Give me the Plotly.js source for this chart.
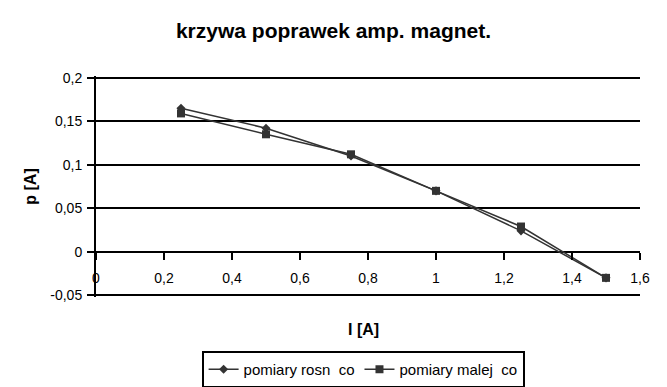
<!DOCTYPE html>
<html><head><meta charset="utf-8">
<script src="https://cdn.plot.ly/plotly-3.0.1.min.js"></script>
<style>body{margin:0;background:#fff}#c{width:667px;height:387px}</style>
</head><body><div id="c"></div>
<script>
const current = [0.25, 0.5, 0.75, 1.0, 1.25, 1.5];
const rosnaco = [0.165, 0.142, 0.110, 0.070, 0.024, -0.030];
const malejaco = [0.159, 0.135, 0.112, 0.070, 0.029, -0.030];
const xTicks = [0, 0.2, 0.4, 0.6, 0.8, 1, 1.2, 1.4, 1.6];
const xTickLabels = ['0', '0,2', '0,4', '0,6', '0,8', '1', '1,2', '1,4', '1,6'];
const yTicks = [-0.05, 0, 0.05, 0.1, 0.15, 0.2];
const yTickLabels = ['-0,05', '0', '0,05', '0,1', '0,15', '0,2'];

const col = '#333333';
const traces = [
  {x: current, y: rosnaco, mode: 'lines+markers', name: 'pomiary rosn\u00a0\u00a0co',
   line: {color: col, width: 1.5}, marker: {symbol: 'diamond', size: 7, color: col}},
  {x: current, y: malejaco, mode: 'lines+markers', name: 'pomiary malej\u00a0\u00a0co',
   line: {color: col, width: 1.5}, marker: {symbol: 'square', size: 8, color: col}}
];
const ff = 'Liberation Sans, Arial, sans-serif';
const font = {family: ff, color: '#000', size: 14};
const layout = {
  width: 667, height: 387,
  margin: {l: 96, r: 27, t: 76, b: 90},
  paper_bgcolor: '#fff', plot_bgcolor: '#fff',
  font: font,
  showlegend: true,
  title: {text: '<b>krzywa poprawek amp. magnet.</b>', x: 0.5, xanchor: 'center', xref: 'container',
          y: 0.92, yanchor: 'middle', yref: 'container',
          font: {family: ff, size: 21, color: '#000'}},
  xaxis: {range: [0, 1.6], tickvals: xTicks, ticktext: xTickLabels, anchor: 'free', position: 0.2047,
          showgrid: false, zeroline: false, showline: false, ticks: 'outside', ticklen: 7, tickwidth: 2,
          tickcolor: '#000', tickfont: font, ticklabelstandoff: 6},
  yaxis: {range: [-0.052, 0.202], tickvals: yTicks, ticktext: yTickLabels, showgrid: true, gridcolor: '#000',
          gridwidth: 2, zeroline: false, showline: true, linecolor: '#000', linewidth: 2,
          ticks: 'outside', ticklen: 7, tickwidth: 2, tickcolor: '#000', tickfont: font, ticklabelstandoff: 2},
  annotations: [
    {text: '<b>I [A]</b>', xref: 'paper', yref: 'paper', x: 0.491, y: -0.145, yanchor: 'middle',
     showarrow: false, font: {family: ff, size: 16, color: '#000'}},
    {text: '<b>p [A]</b>', xref: 'paper', yref: 'paper', x: -0.121, xanchor: 'center', y: 0.5, yanchor: 'middle',
     textangle: -90, showarrow: false, font: {family: ff, size: 16, color: '#000'}}
  ],
  legend: {orientation: 'h', x: 0.491, xanchor: 'center', xref: 'paper', y: 0.093, yanchor: 'top', yref: 'container',
           bordercolor: '#000', borderwidth: 2, font: {family: ff, size: 15, color: '#000'},
           itemwidth: 30, tracegroupgap: 0}
};
Plotly.newPlot('c', traces, layout, {displayModeBar: false, staticPlot: true});
</script></body></html>
